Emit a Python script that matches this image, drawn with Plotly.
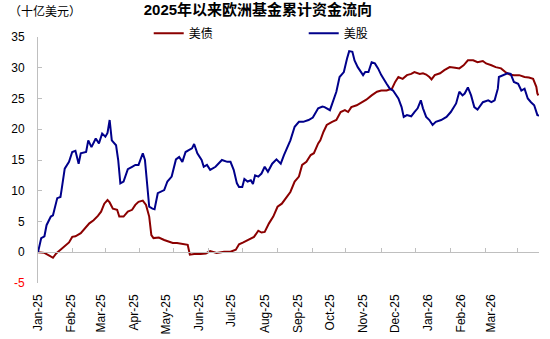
import pandas as pd
import plotly.graph_objects as go

BASE = pd.Timestamp("2025-01-01")

# 美债 cumulative flows (十亿美元), keyed by days since 2025-01-01
bond_days = [0, 6, 11, 14, 17, 21, 26, 29, 32, 35, 40, 45, 48, 52, 56, 59, 62, 65, 67, 70,
             74, 76, 80, 84, 88, 91, 94, 98, 101, 104, 106, 108, 113, 118, 122, 126, 130, 135,
             138, 140, 142, 146, 152, 157, 161, 167, 174, 180, 185, 188, 192, 197, 202, 206,
             209, 212, 216, 220, 224, 228, 232, 236, 240, 244, 247, 251, 255, 258, 262, 264,
             267, 270, 275, 279, 283, 287, 290, 293, 298, 303, 307, 312, 317, 321, 326, 331,
             334, 337, 341, 345, 349, 352, 357, 360, 363, 366, 368, 371, 376, 380, 385, 390,
             394, 398, 402, 407, 411, 416, 419, 424, 428, 433, 437, 441, 445, 450, 455, 459,
             463, 466, 467, 468]
bond_vals = [0, -0.1, -0.6, -0.9, -0.2, 0.4, 1.2, 1.6, 2.5, 2.6, 3.1, 4.2, 4.7, 5.2, 5.9, 6.6,
             7.9, 8.5, 8.1, 7.1, 6.9, 5.8, 5.8, 6.6, 6.9, 7.7, 8.2, 8.4, 7.7, 5.8, 2.8, 2.3, 2.4,
             2.0, 1.7, 1.5, 1.5, 1.3, 1.2, 1.2, -0.4, -0.3, -0.3, -0.2, 0.2, -0.1, 0.1, 0.1, 0.4,
             1.3, 1.6, 2.0, 2.5, 3.5, 3.2, 3.3, 4.7, 5.8, 7.4, 7.9, 8.8, 9.8, 11.5, 12.3, 14.2,
             14.7, 15.8, 16.1, 17.7, 18.2, 19.6, 20.7, 21.2, 21.5, 22.8, 23.1, 22.8, 23.6, 23.9,
             24.4, 24.8, 25.5, 26.1, 26.3, 26.3, 26.6, 27.7, 28.5, 28.2, 28.8, 29.0, 29.3, 29.0,
             29.1, 28.9, 28.5, 28.1, 28.8, 29.1, 29.6, 30.1, 30.0, 29.9, 30.4, 31.2, 31.2, 30.9,
             31.1, 30.7, 30.4, 30.1, 29.9, 29.3, 28.9, 28.8, 28.8, 28.5, 28.4, 28.2, 26.9, 25.8,
             25.5]

# 美股 cumulative flows (十亿美元)
equity_days = [0, 3, 6, 8, 12, 14, 18, 21, 22, 25, 29, 32, 35, 38, 40, 45, 47, 50, 54, 57, 60,
               63, 65, 67, 69, 73, 75, 77, 80, 84, 88, 91, 94, 98, 100, 102, 104, 107, 109, 112,
               118, 121, 125, 129, 132, 135, 138, 141, 144, 146, 149, 153, 155, 158, 161, 166,
               172, 177, 180, 183, 186, 188, 191, 193, 196, 199, 201, 203, 206, 209, 212, 215,
               219, 223, 227, 230, 233, 236, 240, 244, 248, 253, 257, 262, 266, 268, 273, 276,
               279, 282, 286, 289, 291, 294, 296, 299, 304, 306, 309, 312, 315, 318, 321, 326,
               329, 332, 337, 340, 342, 345, 349, 352, 355, 358, 360, 363, 366, 369, 372, 377,
               382, 386, 391, 394, 397, 399, 402, 405, 408, 411, 416, 421, 424, 427, 430, 431,
               436, 439, 442, 445, 449, 452, 455, 458, 461, 464, 467, 469]
equity_vals = [0, 2.3, 2.6, 4.4, 5.8, 6.0, 8.8, 9.0, 10.1, 13.6, 14.7, 16.3, 16.5, 14.4, 16.1,
               16.3, 18.2, 17.1, 18.5, 17.7, 19.3, 18.8, 19.4, 21.5, 18.2, 17.4, 15.0, 11.2, 11.5,
               13.5, 13.9, 14.2, 14.2, 16.1, 15.0, 11.7, 7.4, 7.1, 7.0, 9.6, 10.1, 11.5, 12.3,
               15.1, 15.5, 14.7, 16.3, 16.6, 16.9, 17.6, 16.1, 15.0, 13.9, 14.2, 13.4, 13.9, 15.0,
               14.7, 14.7, 13.4, 11.2, 10.6, 10.6, 11.9, 11.5, 11.7, 11.1, 12.5, 12.3, 12.8, 13.9,
               13.1, 14.4, 15.1, 14.4, 15.8, 17.1, 18.2, 20.4, 21.2, 21.2, 21.5, 21.9, 23.4, 23.7,
               23.6, 23.1, 24.8, 26.1, 28.5, 29.3, 31.5, 32.7, 32.6, 31.2, 30.1, 28.8, 29.3, 29.3,
               30.9, 30.7, 29.9, 28.8, 27.4, 26.6, 26.3, 25.0, 23.6, 22.0, 22.3, 22.1, 22.8, 23.4,
               24.7, 23.4, 22.0, 21.5, 20.7, 21.2, 21.5, 22.0, 22.8, 24.2, 26.1, 25.5, 25.8, 26.8,
               25.5, 23.6, 23.2, 24.4, 24.7, 24.4, 24.7, 26.6, 28.5, 28.8, 29.1, 29.0, 27.7, 27.4,
               26.3, 26.6, 25.0, 24.4, 23.9, 22.3, 22.2]

month_labels = ["Jan-25", "Feb-25", "Mar-25", "Apr-25", "May-25", "Jun-25", "Jul-25", "Aug-25",
                "Sep-25", "Oct-25", "Nov-25", "Dec-25", "Jan-26", "Feb-26", "Mar-26"]
month_starts = pd.date_range("2025-01-01", periods=len(month_labels), freq="MS")

# minor tick marks drawn on the zero line (days since 2025-01-01)
zero_tick_days = [32, 63, 95, 127, 159, 191, 224, 257, 288, 321, 353, 386, 418, 448]

y_ticks = [-5, 0, 5, 10, 15, 20, 25, 30, 35]
y_ticktext = ['<span style="color:#FF0000">-5</span>'] + [str(v) for v in y_ticks[1:]]

to_dates = lambda days: [BASE + pd.Timedelta(days=d) for d in days]

RED = "#8B0000"
BLUE = "#00008B"
FONT = "Liberation Sans, Arial, Noto Sans CJK SC, sans-serif"
x_range = [BASE, BASE + pd.Timedelta(days=468.5)]

fig = go.Figure()
fig.add_trace(go.Scatter(x=to_dates(bond_days), y=bond_vals, mode="lines", name="美债",
                         line=dict(color=RED, width=2), xaxis="x", yaxis="y"))
fig.add_trace(go.Scatter(x=to_dates(equity_days), y=equity_vals, mode="lines", name="美股",
                         line=dict(color=BLUE, width=2), xaxis="x2", yaxis="y"))

fig.update_layout(
    width=550, height=339,
    margin=dict(l=38, r=11, t=37, b=56, autoexpand=False),
    paper_bgcolor="white", plot_bgcolor="white",
    font=dict(family=FONT, size=12, color="#000000"),
    title=dict(text="<b>2025年以来欧洲基金累计资金流向</b>", x=0.469, xref="container",
               xanchor="center", y=0.97, yref="container", yanchor="middle",
               font=dict(size=15, color="#000000", family=FONT)),
    showlegend=True,
    legend=dict(orientation="h", x=0.221, y=1.015, xanchor="left", yanchor="middle",
                entrywidth=110, entrywidthmode="pixels", itemwidth=30,
                font=dict(size=12), bgcolor="rgba(0,0,0,0)"),
    xaxis=dict(type="date", range=x_range, tickvals=list(month_starts), ticktext=month_labels,
               tickangle=-90, showgrid=False, showline=False, zeroline=False, ticks="",
               ticklabelstandoff=8, tickfont=dict(size=12), automargin=False),
    xaxis2=dict(type="date", range=x_range, overlaying="x", anchor="free", position=0.125,
                side="bottom", showline=True, linecolor="#BFBFBF", linewidth=1,
                ticks="inside", ticklen=4, tickcolor="#BFBFBF",
                tickvals=to_dates(zero_tick_days), showticklabels=False, showgrid=False,
                zeroline=False, automargin=False),
    yaxis=dict(range=[-5, 35], tickvals=y_ticks, ticktext=y_ticktext, showgrid=False,
               zeroline=False, showline=True, linecolor="#BFBFBF", linewidth=1,
               ticks="inside", ticklen=4, tickcolor="#BFBFBF", ticklabelstandoff=10,
               tickfont=dict(size=12), automargin=False),
    annotations=[dict(text="（十亿美元）", xref="paper", yref="paper", x=-0.062, y=1.104,
                      xanchor="left", yanchor="middle", showarrow=False,
                      font=dict(size=12, color="#000000"))],
)

fig.write_html("out.html")
